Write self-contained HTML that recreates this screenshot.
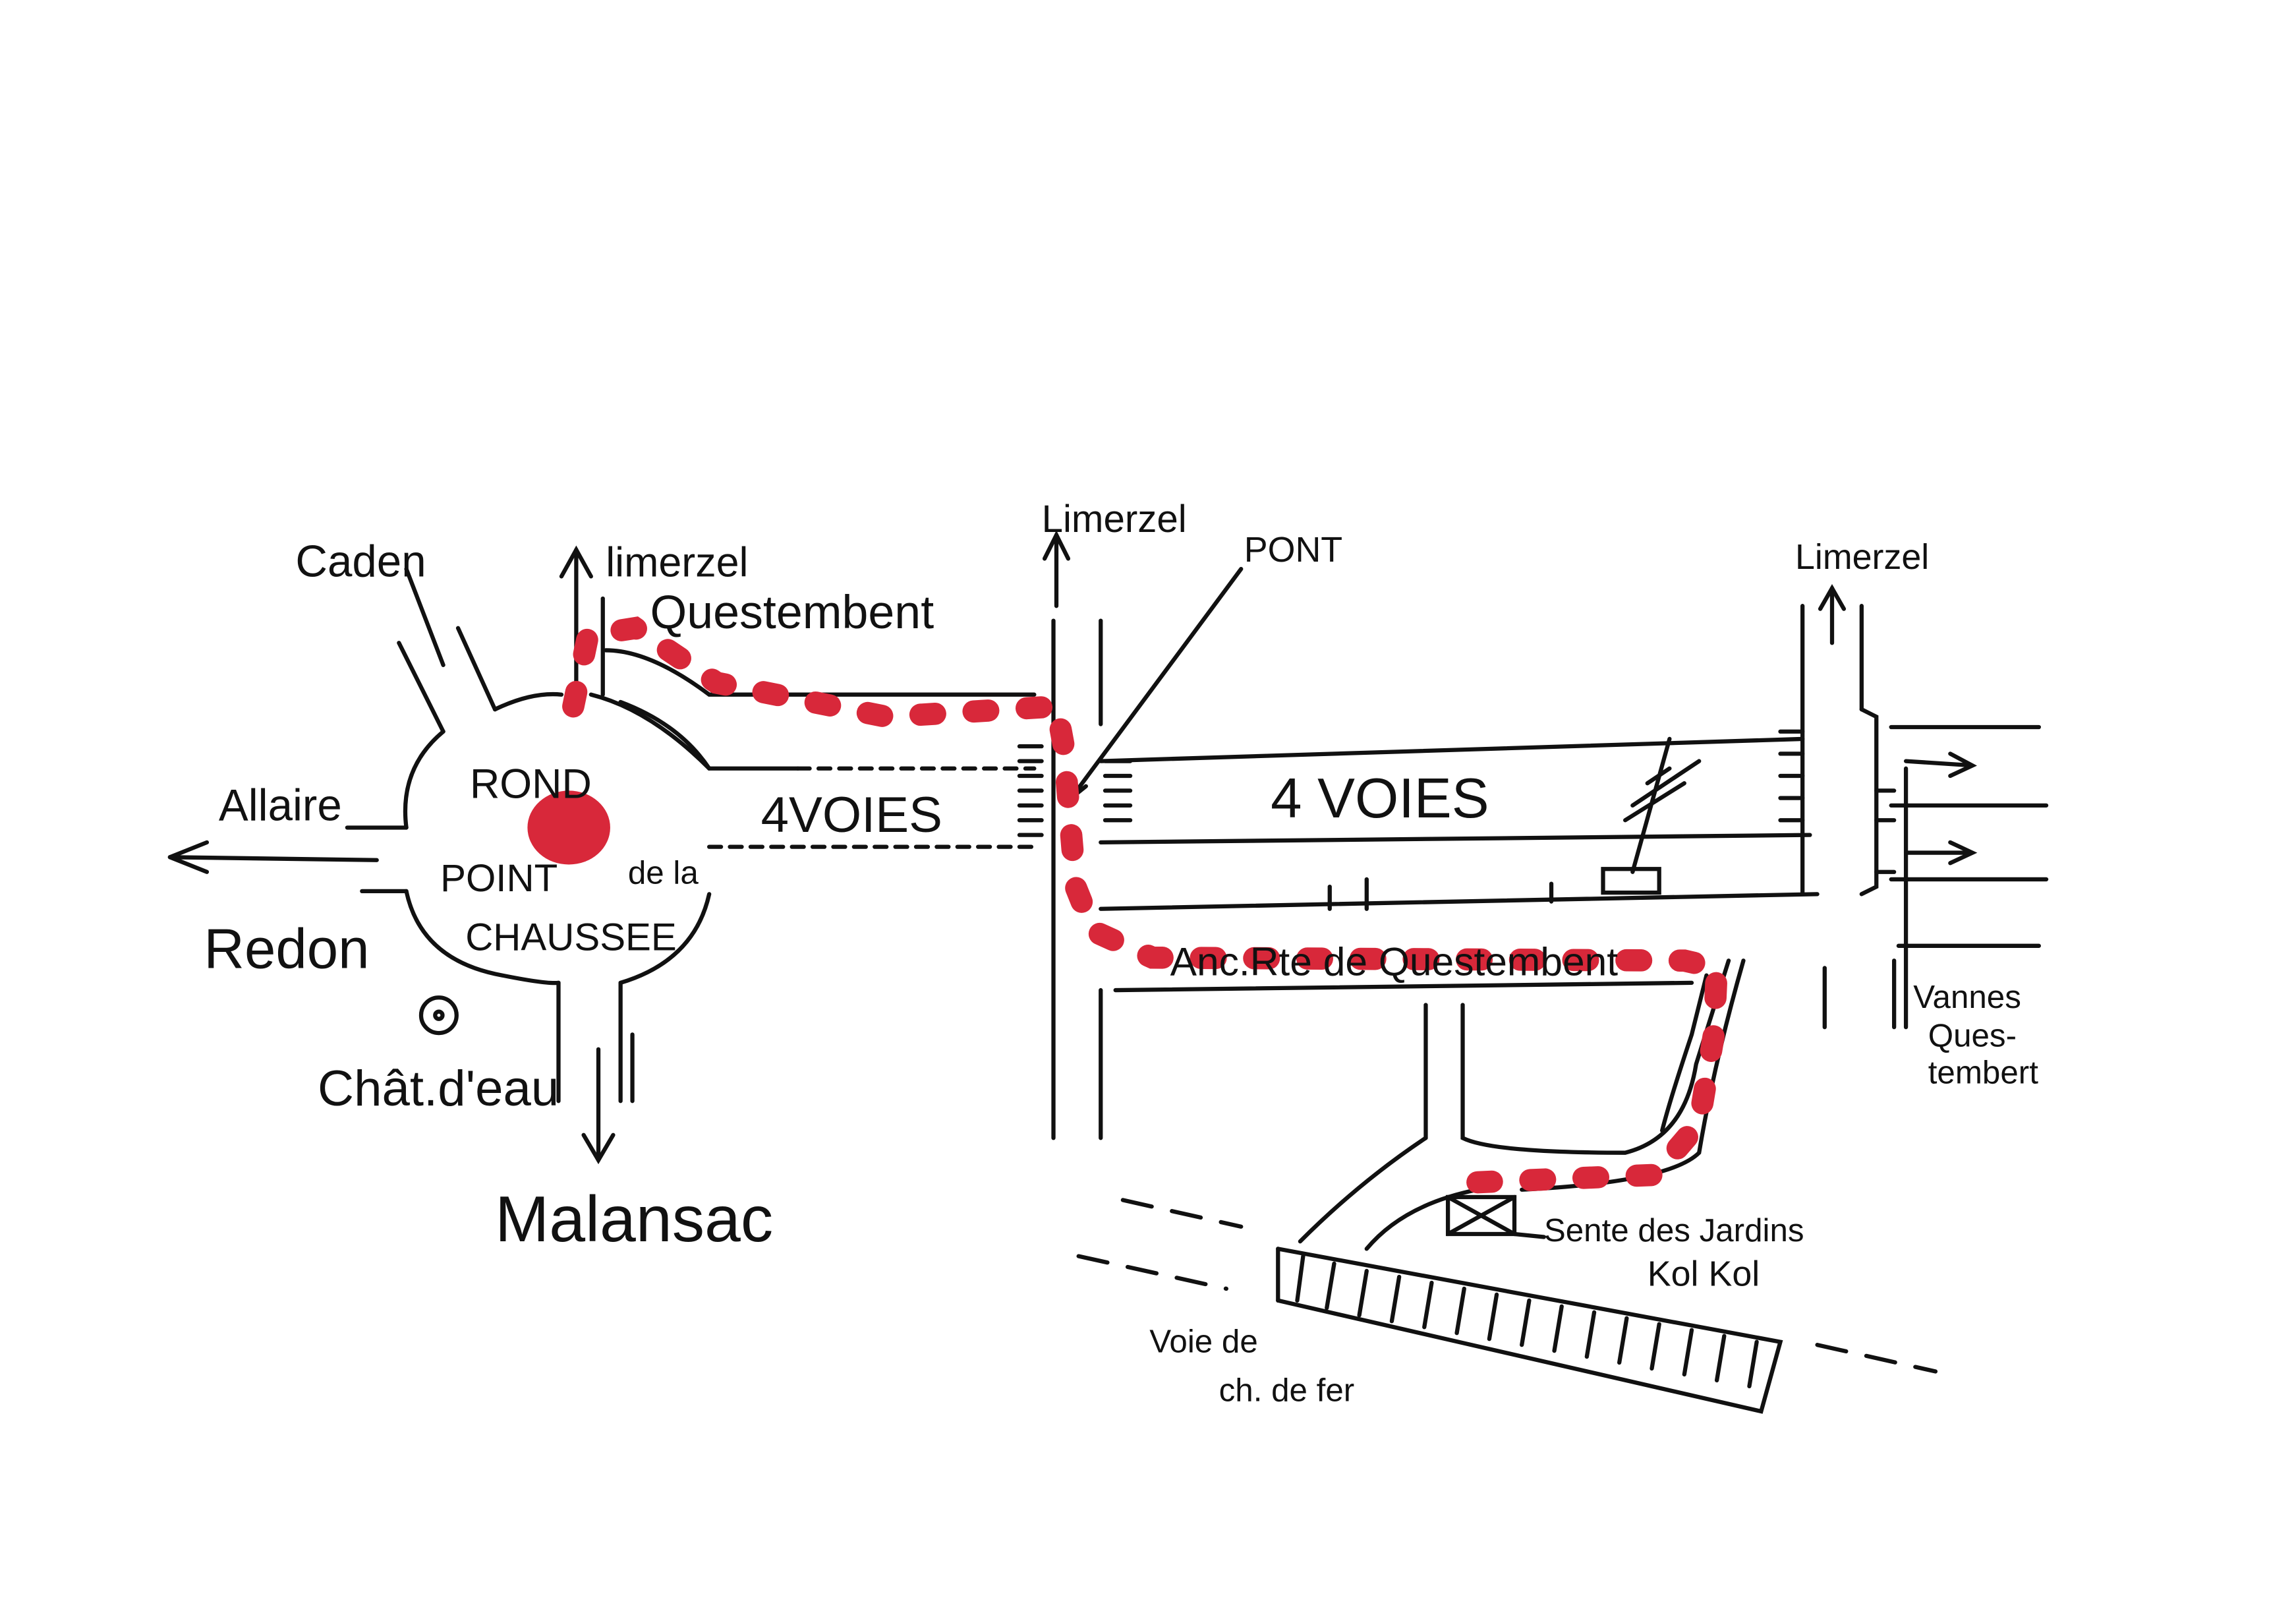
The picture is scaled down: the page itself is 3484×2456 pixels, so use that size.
<!DOCTYPE html>
<html><head><meta charset="utf-8"><style>
html,body{margin:0;padding:0;background:#fff;}
svg{display:block;}
text{font-family:"Liberation Sans",sans-serif;fill:#111;}
</style></head><body>
<svg width="3484" height="2456" viewBox="0 0 1554 1095.5" xmlns="http://www.w3.org/2000/svg">
<rect width="1554" height="1096" fill="#fff"/>
<g fill="none" stroke="#111" stroke-width="2.8" stroke-linecap="round">
<path d="M300,495 Q270,520 275,560"/>
<path d="M275,603 Q285,650 340,660 Q370,666 378,665"/>
<path d="M420,665 Q470,650 480,605"/>
<path d="M480,520 Q460,490 420,475"/>
<path d="M335,480 Q360,468 380,470"/>
<path d="M235,560 L275,560"/><path d="M245,603 L275,603"/>
<path d="M115,580 L255,582"/><path d="M115,580 L140,570 M115,580 L140,590"/>
<path d="M270,435 L300,495"/><path d="M310,425 L335,480"/><path d="M275,385 L300,450"/>
<path d="M390,470 L390,372"/><path d="M380,390 L390,372 L400,390"/>
<path d="M408,470 L408,405"/>
<path d="M410,440 Q440,440 480,470 L700,470"/>
<path d="M400,470 Q440,480 480,520 L540,520"/>
<path d="M540,520 L700,520" stroke-dasharray="8 6"/>
<path d="M480,573 L700,573" stroke-dasharray="8 6"/>
<path d="M378,665 L378,745"/><path d="M420,665 L420,745"/><path d="M428,700 L428,745"/>
<path d="M405,710 L405,785"/><path d="M395,768 L405,785 L415,768"/>
<path d="M713,420 L713,770"/><path d="M745,420 L745,490"/><path d="M745,670 L745,770"/>
<path d="M715,410 L715,362"/><path d="M707,378 L715,362 L723,378"/>
<path d="M690,505 L705,505 M690,515 L705,515 M690,525 L705,525 M690,535 L705,535 M690,545 L705,545 M690,555 L705,555 M690,565 L705,565"/>
<path d="M748,515 L765,515 M748,525 L765,525 M748,535 L765,535 M748,545 L765,545 M748,555 L765,555"/>
<path d="M1205,495 L1220,495 M1205,510 L1220,510 M1205,525 L1220,525 M1205,540 L1220,540 M1205,555 L1220,555"/>
<path d="M745,515 L1220,500"/><path d="M745,570 L1225,565"/>
<path d="M745,615 L1230,605"/><path d="M755,670 L1145,665"/>
<path d="M900,615 L900,600 M925,615 L925,595 M1050,610 L1050,598"/>
<path d="M1105,545 L1150,515 M1100,555 L1140,530 M1115,530 L1130,520 M1105,590 L1130,500"/>
<rect x="1085" y="588" width="38" height="16"/>
<path d="M1220,410 L1220,605"/><path d="M1260,410 L1260,480"/><path d="M1235,655 L1235,695"/>
<path d="M1240,435 L1240,398"/><path d="M1232,412 L1240,398 L1248,412"/>
<path d="M1260,480 L1270,485 L1270,600 L1260,605"/>
<path d="M1280,492 L1380,492 M1280,545 L1385,545 M1280,595 L1385,595 M1285,640 L1380,640"/>
<path d="M1290,515 L1335,518 M1320,510 L1335,518 L1320,525"/>
<path d="M1290,577 L1335,577 M1320,570 L1335,577 L1320,584"/>
<path d="M1290,520 L1290,695 M1282,650 L1282,695"/>
<path d="M1270,535 L1282,535 M1270,555 L1282,555 M1270,590 L1282,590"/>
<path d="M965,680 L965,770 M990,680 L990,770 Q1010,780 1100,780 Q1140,770 1148,720 L1170,650"/>
<path d="M1155,660 L1145,700 Q1130,745 1125,765"/>
<path d="M1180,650 Q1160,720 1150,780 Q1130,800 1030,805"/>
<path d="M965,770 Q920,800 880,840"/><path d="M1000,805 Q950,815 925,845"/>
<rect x="980" y="810" width="45" height="25"/><path d="M980,810 L1025,835 M1025,810 L980,835"/>
<path d="M1025,835 L1045,837"/>
<path d="M760,812 L840,830" stroke-dasharray="20 14"/>
<path d="M730,850 L830,872" stroke-dasharray="20 14"/>
<path d="M1230,910 L1310,928" stroke-dasharray="20 14"/>
<path d="M865,845 L1205,908 L1192,955 L865,880"/>
<path d="M865,845 L865,880"/>
<path d="M882,850 L878,880 M903,855 L898,885 M925,860 L920,890 M947,864 L942,894 M969,868 L964,898 M991,872 L986,902 M1013,876 L1008,906 M1035,880 L1030,910 M1057,884 L1052,914 M1079,888 L1074,918 M1101,892 L1096,922 M1123,896 L1118,926 M1145,900 L1140,930 M1167,904 L1162,934 M1189,908 L1184,938"/>
<path d="M840,385 L725,540"/><path d="M728,528 L725,540 L735,532"/>
<circle cx="297" cy="687" r="12"/><circle cx="297" cy="687" r="2.5"/>
</g>
<g fill="none" stroke="#d8283a" stroke-width="15" stroke-linecap="round" stroke-dasharray="10 26">
<path d="M388,478 L398,430 L430,425 L485,462 L600,485 L715,478 L720,505 L728,600 L740,630 L780,648 L1140,650 L1162,655 L1160,700 L1150,760 L1120,795 L1000,800"/>
</g>
<ellipse cx="385" cy="560" rx="28" ry="25" fill="#d8283a"/>
<g font-size="30">
<text x="200" y="390">Caden</text>
<text x="410" y="390" font-size="28">limerzel</text>
<text x="440" y="425" font-size="32">Questembent</text>
<text x="705" y="360" font-size="26">Limerzel</text>
<text x="842" y="380" font-size="24">PONT</text>
<text x="1215" y="385" font-size="24">Limerzel</text>
<text x="148" y="555">Allaire</text>
<text x="138" y="655" font-size="38">Redon</text>
<text x="318" y="540" font-size="28">ROND</text>
<text x="298" y="603" font-size="26">POINT</text>
<text x="425" y="598" font-size="22">de la</text>
<text x="315" y="643" font-size="26">CHAUSSEE</text>
<text x="515" y="563" font-size="34">4VOIES</text>
<text x="860" y="553" font-size="38">4 VOIES</text>
<text x="792" y="660" font-size="27">Anc.Rte de Questembent</text>
<text x="215" y="748" font-size="34">Chât.d'eau</text>
<text x="335" y="840" font-size="44">Malansac</text>
<text x="1295" y="682" font-size="22">Vannes</text>
<text x="1305" y="708" font-size="22">Ques-</text>
<text x="1305" y="733" font-size="22">tembert</text>
<text x="1045" y="840" font-size="22">Sente des Jardins</text>
<text x="1115" y="870" font-size="24">Kol Kol</text>
<text x="778" y="915" font-size="22">Voie de</text>
<text x="825" y="948" font-size="22">ch. de fer</text>
</g>
</svg>
</body></html>
